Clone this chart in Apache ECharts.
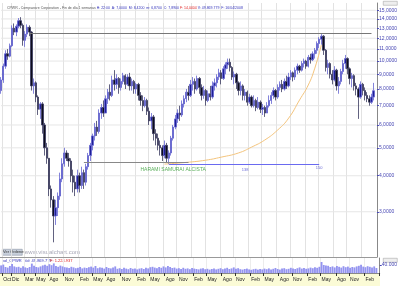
<!DOCTYPE html>
<html><head><meta charset="utf-8">
<script src="https://cdn.jsdelivr.net/npm/echarts@6/dist/echarts.min.js"></script>
<style>html,body{margin:0;padding:0;background:#fff}#c{width:400px;height:286px}</style>
</head><body><div id="c"></div><script>
// ---- data (two-week periods, prices in USD) ----
const startDate = '2001-09-28';
const periodDays = 14;
const periodCount = 173; // last category left empty (right margin)
// [open, close, low, high]
const ohlc = [
[7.9,8.6,7.7,8.8],[8.6,9.6,8.4,9.8],[9.6,10.6,9.4,10.9],[10.6,10.4,10.1,11.0],[10.4,11.3,10.3,11.5],
[11.3,13.0,11.2,13.3],[13.0,12.6,12.3,13.5],[12.6,13.2,12.2,13.4],[13.2,13.8,13.0,14.1],[13.8,13.3,13.0,14.2],
[13.3,11.8,11.3,13.5],[11.8,12.4,11.2,12.7],[12.4,13.1,12.1,13.4],[13.1,12.6,12.2,13.3],[12.6,8.2,7.9,12.7],
[8.2,8.4,7.7,8.7],[8.4,7.5,7.2,8.5],[7.5,6.8,6.5,7.6],[6.8,7.1,6.3,7.2],[7.1,6.0,5.6,7.2],
[6.0,5.0,4.7,6.1],[5.0,4.6,4.4,5.2],[4.6,3.6,3.4,4.6],[3.6,3.3,3.1,3.7],[3.3,2.9,2.35,3.4],
[2.9,3.1,2.7,3.3],[3.1,3.4,2.9,3.5],[3.4,3.9,3.3,4.1],[3.9,4.4,3.8,4.6],[4.4,4.8,4.3,5.0],
[4.8,4.6,4.5,4.9],[4.6,4.5,4.3,4.8],[4.5,4.0,3.8,4.6],[4.0,3.8,3.5,4.2],[3.8,3.6,3.4,4.0],
[3.6,4.0,3.5,4.2],[4.0,3.7,3.5,4.1],[3.7,4.1,3.6,4.3],[4.1,3.8,3.6,4.2],[3.8,4.3,3.7,4.4],
[4.3,4.7,4.2,4.8],[4.7,5.1,4.5,5.2],[5.1,5.5,4.9,5.6],[5.5,5.9,5.3,6.1],[5.9,5.7,5.5,6.2],
[5.7,6.6,5.6,6.8],[6.6,6.9,6.3,7.1],[6.9,6.6,6.4,7.3],[6.6,7.4,6.6,7.6],[7.4,7.8,7.1,8.0],
[7.8,7.6,7.3,8.3],[7.6,8.6,7.5,8.9],[8.6,8.3,7.9,9.3],[8.3,8.7,8.0,9.0],[8.7,8.1,7.7,8.8],
[8.1,8.5,7.9,8.7],[8.5,8.9,8.3,9.1],[8.9,8.3,8.0,9.0],[8.3,8.8,8.2,9.0],[8.8,8.2,7.9,9.1],
[8.2,8.5,7.9,8.7],[8.5,8.0,7.7,8.6],[8.0,8.3,7.7,8.4],[8.3,7.6,7.3,8.4],[7.6,7.3,7.0,7.8],
[7.3,7.0,6.7,7.6],[7.0,7.3,6.9,7.5],[7.3,6.7,6.5,7.4],[6.7,6.2,6.0,6.9],[6.2,6.4,5.8,6.6],
[6.4,5.6,5.3,6.5],[5.6,5.4,5.1,5.8],[5.4,5.1,4.9,5.6],[5.1,5.0,4.7,5.3],[5.0,4.7,4.5,5.1],
[4.7,5.1,4.6,5.3],[5.1,4.6,4.45,5.2],[4.6,4.8,4.4,4.9],[4.8,5.4,4.7,5.5],[5.4,5.9,5.3,6.0],
[5.9,6.3,5.8,6.5],[6.3,6.6,6.1,6.8],[6.6,6.5,6.2,7.0],[6.5,7.1,6.4,7.3],[7.1,7.4,6.9,7.6],
[7.4,7.8,7.2,8.0],[7.8,7.6,7.3,8.2],[7.6,8.3,7.5,8.6],[8.3,8.5,7.9,8.8],[8.5,8.0,7.7,8.7],
[8.0,8.7,7.9,8.9],[8.7,8.1,7.7,8.8],[8.1,7.6,7.3,8.3],[7.6,7.9,7.4,8.2],[7.9,7.3,7.0,8.0],
[7.3,7.7,7.2,7.9],[7.7,7.5,7.3,8.2],[7.5,8.2,7.4,8.5],[8.2,8.4,7.9,8.7],[8.4,8.8,8.1,9.0],
[8.8,9.1,8.6,9.4],[9.1,8.7,8.3,9.3],[8.7,9.4,8.6,9.6],[9.4,9.7,9.0,9.9],[9.7,9.9,9.4,10.2],
[9.9,9.5,9.2,10.2],[9.5,8.8,8.6,9.6],[8.8,9.0,8.3,9.2],[9.0,8.4,8.0,9.1],[8.4,7.9,7.6,8.5],
[7.9,8.2,7.6,8.5],[8.2,7.6,7.3,8.3],[7.6,7.8,7.3,8.0],[7.8,7.2,7.0,7.9],[7.2,7.5,7.1,7.7],
[7.5,7.0,6.9,7.6],[7.0,7.3,6.9,7.6],[7.3,6.9,6.7,7.4],[6.9,7.2,6.8,7.5],[7.2,6.8,6.6,7.3],
[6.8,6.9,6.5,7.1],[6.9,6.6,6.4,7.0],[6.6,7.0,6.6,7.2],[7.0,7.3,6.9,7.6],[7.3,7.6,7.1,7.8],
[7.6,7.9,7.4,8.1],[7.9,7.5,7.3,8.0],[7.5,8.1,7.4,8.3],[8.1,8.3,7.9,8.5],[8.3,8.0,7.8,8.6],
[8.0,8.5,7.9,8.7],[8.5,8.2,8.0,8.9],[8.2,8.8,8.1,9.1],[8.8,9.1,8.6,9.3],[9.1,8.8,8.5,9.2],
[8.8,9.3,8.6,9.5],[9.3,9.6,9.0,9.8],[9.6,9.3,9.1,9.7],[9.3,9.8,9.2,10.0],[9.8,10.0,9.5,10.2],
[10.0,9.6,9.4,10.1],[9.6,10.3,9.5,10.5],[10.3,10.1,9.8,10.6],[10.1,10.6,10.0,10.8],[10.6,10.9,10.2,11.1],
[10.9,11.5,10.6,11.7],[11.5,11.9,11.1,12.1],[11.9,12.2,11.4,12.4],[12.2,10.9,10.5,12.3],[10.9,9.5,9.2,11.0],
[9.5,9.8,9.0,10.1],[9.8,9.0,8.7,9.9],[9.0,8.6,8.3,9.3],[8.6,9.3,8.5,9.6],[9.3,8.2,7.9,9.4],
[8.2,8.5,7.7,8.8],[8.5,9.2,8.3,9.4],[9.2,9.8,9.0,10.1],[9.8,10.2,9.4,10.5],[10.2,9.4,9.0,10.3],
[9.4,8.7,8.3,9.5],[8.7,8.9,8.1,9.1],[8.9,8.2,7.9,9.0],[8.2,8.0,7.6,8.4],[8.0,7.5,6.3,8.1],
[7.5,8.3,7.4,8.5],[8.3,7.9,7.6,8.4],[7.9,7.6,7.3,8.1],[7.6,7.4,7.2,7.8],[7.4,7.2,7.0,7.6],
[7.2,7.5,7.1,7.7],[7.5,7.89,7.3,8.4]
];
// volume, shares (thousands)
const volumes = [
38000,42000,30000,27000,35000,45000,33000,29000,31000,26000,
34000,28000,25000,30000,47000,36000,30000,28000,33000,38000,
41000,36000,44000,39000,48000,35000,31000,37000,33000,29000,
27000,25000,31000,28000,24000,26000,30000,23000,27000,25000,
29000,32000,27000,35000,24000,28000,26000,22000,30000,25000,
23000,28000,33000,21000,24000,20000,26000,22000,19000,25000,
21000,23000,18000,22000,24000,20000,26000,23000,29000,31000,
27000,24000,30000,26000,33000,28000,35000,30000,25000,27000,
22000,24000,20000,26000,21000,23000,19000,25000,22000,20000,
18000,22000,24000,19000,21000,17000,20000,23000,18000,21000,
24000,19000,22000,26000,20000,23000,28000,21000,24000,19000,
17000,20000,22000,18000,16000,19000,21000,17000,20000,18000,
22000,19000,23000,18000,21000,25000,20000,17000,22000,24000,
19000,21000,26000,23000,20000,24000,28000,22000,25000,21000,
23000,27000,24000,29000,26000,31000,55000,40000,38000,36000,
30000,33000,28000,35000,31000,27000,34000,29000,32000,26000,
30000,28000,33000,36000,41000,32000,29000,34000,31000,27000,
33000,25000
];
const priceTicks = [3,4,5,6,7,8,9,10,11,12,13,14,15];
const volumeTicks = [40000];
const tickMonths = ['2001-10','2001-12','2002-03','2002-05','2002-08','2002-11',
 '2003-02','2003-05','2003-08','2003-11','2004-02','2004-05','2004-08','2004-11',
 '2005-02','2005-05','2005-08','2005-11','2006-02','2006-05','2006-08','2006-11',
 '2007-02','2007-05','2007-08','2007-11','2008-02'];
const monthNames = ['Ene','Feb','Mar','Abr','May','Jun','Jul','Ago','Sep','Oct','Nov','Dic'];
// annotations [date, price]
const resistanceLine = [['2002-03-29',12.45],['2008-04-04',12.45]];
const supportLine = [['2003-03-14',4.45],['2005-01-14',4.45]];
const countLine = [['2004-09-10',4.38],['2007-05-04',4.38]];
const countLabels = [['2006-01-13',4.19,'138'],['2007-05-04',4.25,'150']];
const patternLabel = [['2004-10-08',4.19,'HARAMI SAMURAI ALCISTA']];
const curvePoints = [['2004-08-13',4.39],['2004-12-31',4.45],['2005-05-06',4.53],['2005-08-12',4.64],
 ['2005-12-02',4.8],['2006-02-24',5.03],['2006-05-19',5.32],['2006-08-11',5.77],['2006-10-20',6.34],
 ['2006-12-29',7.33],['2007-02-23',8.26],['2007-04-06',9.45],['2007-05-18',11.37]];

// ---- build ----
const DAY = 864e5;
const t0 = Date.parse(startDate + 'T00:00:00Z');
const categories = [];
for (let i = 0; i < periodCount; i++) {
  categories.push(new Date(t0 + i * periodDays * DAY).toISOString().slice(0, 10));
}
function cat(d) {
  const i = Math.round((Date.parse(d + 'T00:00:00Z') - t0) / (periodDays * DAY));
  return categories[Math.max(0, Math.min(categories.length - 1, i))];
}
const labelIdx = new Set();
categories.forEach((c, i) => {
  const m = c.slice(0, 7);
  if (tickMonths.includes(m) && (i === 0 || categories[i - 1].slice(0, 7) !== m)) labelIdx.add(i);
});
const showTick = (i) => labelIdx.has(i);
const fmtPrice = v => v.toFixed(4).replace('.', ',');
const fmtVol = v => String(v).replace(/\B(?=(\d{3})+(?!\d))/g, '.');
const last = ohlc[ohlc.length - 1];

const chart = echarts.init(document.getElementById('c'), null, {renderer: 'canvas'});
const blue = '#4646b4';
const gridColor = '#e2e2e2';
const textData = countLabels.map(c => ({value: [cat(c[0]), c[1]], name: c[2], label: {fontSize: 4, color: '#4444cc'}}))
  .concat(patternLabel.map(c => ({value: [cat(c[0]), c[1]], name: c[2], label: {fontSize: 5, color: '#2e9a2e'}})));
// horizontal price grid lines, one thin line per tick value, under the candles
const gridSeries = priceTicks.map(v => ({
  type: 'line', xAxisIndex: 0, yAxisIndex: 0, silent: true, symbol: 'none', z: 0,
  data: [[categories[0], v], [categories[categories.length - 1], v]],
  lineStyle: {color: '#e6e6e6', width: 1}
}));
chart.setOption({
  animation: false,
  backgroundColor: '#fff',
  textStyle: {fontFamily: 'Arial, "Liberation Sans", sans-serif'},
  title: {
    left: 2, top: 1,
    text: '{n|CPWR - Compuware Corporation - Fin de día 1 semanas} {b|H: 22:00  A: 7,0000  M: 8,4200  m: 6,8700  C: 7,8900} {r|F: 14,0404} {b|V: 49.869.779  F: 16/04/2008}',
    textStyle: {fontSize: 3.5, fontWeight: 'normal', rich: {
      n: {fontSize: 3.5, color: '#555'}, b: {fontSize: 3.5, color: '#3333bb'}, r: {fontSize: 3.5, color: '#e02020'}
    }}
  },
  grid: [
    {left: 0, right: 20, top: 3, bottom: 29},
    {left: 0, right: 20, top: 258, bottom: 13}
  ],
  xAxis: [
    {type: 'category', gridIndex: 0, data: categories, boundaryGap: true,
     axisLine: {show: true, lineStyle: {color: '#999', width: 1}}, axisTick: {show: false}, axisLabel: {show: false},
     splitLine: {show: true, interval: showTick, lineStyle: {color: gridColor, width: 1}}},
    {type: 'category', gridIndex: 1, data: categories, boundaryGap: true,
     axisLine: {show: true, lineStyle: {color: '#888', width: 1}},
     axisTick: {show: true, interval: showTick, length: 3, lineStyle: {color: '#333'}},
     axisLabel: {show: true, interval: showTick, align: 'left', margin: 4, fontSize: 5, color: '#222',
       formatter: v => monthNames[parseInt(v.slice(5, 7), 10) - 1]},
     splitLine: {show: true, interval: showTick, lineStyle: {color: '#ececec', width: 1}}}
  ],
  yAxis: [
    {type: 'log', logBase: 10, gridIndex: 0, position: 'right', min: 2.09, max: 15.9,
     axisLine: {show: true, lineStyle: {color: '#888'}},
     axisTick: {show: true, length: 2, customValues: priceTicks, lineStyle: {color: blue}},
     axisLabel: {show: true, customValues: priceTicks, margin: 2, fontSize: 5, color: blue, formatter: fmtPrice},
     splitLine: {show: false}},
    {type: 'value', gridIndex: 1, position: 'right', min: 0, max: 75000,
     axisLine: {show: true, lineStyle: {color: '#888'}},
     axisTick: {show: true, length: 2, customValues: volumeTicks, lineStyle: {color: blue}},
     axisLabel: {show: true, customValues: volumeTicks, margin: 2, fontSize: 5, color: blue, formatter: fmtVol},
     splitLine: {show: false}}
  ],
  graphic: [
    {type: 'rect', left: 0, top: 273, shape: {width: 380, height: 13}, style: {fill: '#fbfbd6'}, z: -1},
    {type: 'rect', left: 2, top: 249, shape: {width: 20, height: 6}, style: {fill: '#c8d0dc', stroke: '#7a8496', lineWidth: 0.5}},
    {type: 'text', left: 3, top: 250, style: {text: 'Ver Ordenes', fontSize: 4, fill: '#333'}},
    {type: 'text', left: 24, top: 249, style: {text: 'www.visualchart.com', fontSize: 6, fill: '#a8a8b8'}},
    {type: 'text', left: 2, top: 259, style: {text: 'vol_CPWR  Vol: 49.869.779', fontSize: 4, fill: '#3333bb'}},
    {type: 'text', left: 50, top: 259, style: {text: 'F: 1.224.937', fontSize: 4, fill: '#e02020'}},
    {type: 'rect', left: 383, top: 1, shape: {width: 14, height: 4}, style: {fill: '#eee', stroke: '#999', lineWidth: 0.5}},
    {type: 'rect', left: 383, top: 258, shape: {width: 14, height: 4}, style: {fill: '#eee', stroke: '#999', lineWidth: 0.5}}
  ],
  series: gridSeries.concat([
    {type: 'line', xAxisIndex: 0, yAxisIndex: 0, smooth: true, symbol: 'none',
     data: curvePoints.map(p => [cat(p[0]), p[1]]),
     lineStyle: {color: '#f4c47c', width: 1}, z: 1},
    {type: 'candlestick', xAxisIndex: 0, yAxisIndex: 0, data: ohlc, barWidth: 1.9,
     itemStyle: {color: '#1e1e96', color0: '#0c0c1c', borderColor: '#6464d2', borderColor0: '#3a3a60', borderWidth: 0.8},
     markLine: {
       silent: true, symbol: ['none', 'none'], label: {show: false},
       data: [
         [{coord: [cat(resistanceLine[0][0]), resistanceLine[0][1]], lineStyle: {color: '#777', width: 1, type: 'solid'}},
          {coord: [cat(resistanceLine[1][0]), resistanceLine[1][1]]}],
         [{coord: [cat(supportLine[0][0]), supportLine[0][1]], lineStyle: {color: '#888', width: 1, type: 'solid'}},
          {coord: [cat(supportLine[1][0]), supportLine[1][1]]}],
         [{coord: [cat(countLine[0][0]), countLine[0][1]], lineStyle: {color: '#6a6af0', width: 1, type: 'solid'}},
          {coord: [cat(countLine[1][0]), countLine[1][1]]}],
         {yAxis: last[1], lineStyle: {opacity: 0},
          label: {show: true, position: 'end', distance: 2, formatter: fmtPrice(last[1]), fontSize: 5, color: '#333',
                  backgroundColor: '#ffffb4', borderColor: '#999', borderWidth: 0.5, padding: [1, 1]}}
       ]
     }},
    {type: 'scatter', xAxisIndex: 0, yAxisIndex: 0, data: textData, symbolSize: 1, silent: true,
     itemStyle: {color: 'rgba(0,0,0,0)'}, z: 5,
     label: {show: true, position: 'inside', formatter: p => p.name}},
    {type: 'bar', xAxisIndex: 1, yAxisIndex: 1, data: volumes, barWidth: '85%',
     itemStyle: {color: '#9494f0'},
     markLine: {silent: true, symbol: ['none', 'none'],
       data: [{yAxis: volumes[volumes.length - 1], lineStyle: {opacity: 0},
         label: {show: true, position: 'end', distance: 2, formatter: '24.969,41', fontSize: 4, color: '#333',
                 backgroundColor: '#ffffb4', borderColor: '#999', borderWidth: 0.5, padding: [1, 1]}}]}}
  ])
});
</script></body></html>
